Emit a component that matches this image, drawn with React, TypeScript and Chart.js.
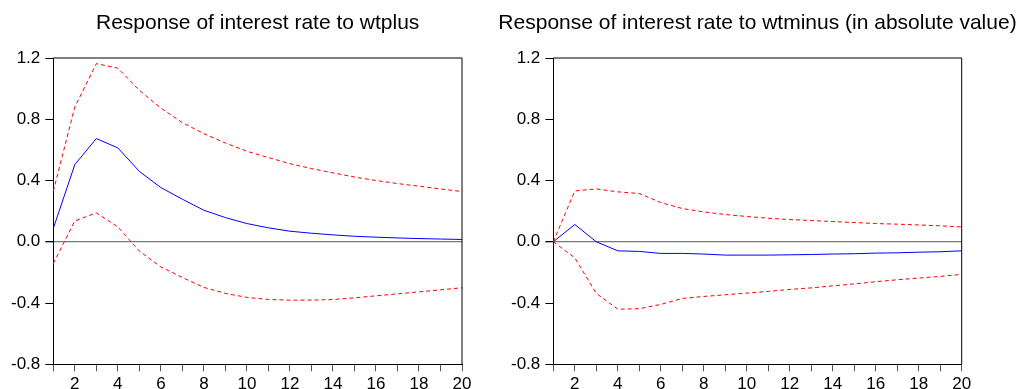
import React, { useEffect, useRef } from "react";
import { Chart, registerables } from "chart.js";

Chart.register(...registerables);

const periods = [1, 2, 3, 4, 5, 6, 7, 8, 9, 10, 11, 12, 13, 14, 15, 16, 17, 18, 19, 20];
const yTicks = [-0.8, -0.4, 0.0, 0.4, 0.8, 1.2];

const plusTitle = "Response of interest rate to wtplus";
const plusResponse = [0.087, 0.504, 0.674, 0.613, 0.46, 0.354, 0.278, 0.206, 0.158, 0.119, 0.091, 0.069, 0.056, 0.045, 0.036, 0.03, 0.025, 0.021, 0.018, 0.015];
const plusUpper = [0.33, 0.88, 1.163, 1.134, 0.989, 0.873, 0.778, 0.706, 0.645, 0.591, 0.55, 0.51, 0.478, 0.45, 0.423, 0.4, 0.38, 0.363, 0.345, 0.328];
const plusLower = [-0.142, 0.136, 0.189, 0.097, -0.061, -0.164, -0.233, -0.298, -0.337, -0.363, -0.377, -0.381, -0.381, -0.377, -0.366, -0.353, -0.34, -0.327, -0.314, -0.3];

const minusTitle = "Response of interest rate to wtminus (in absolute value)";
const minusResponse = [0.0, 0.113, 0.0, -0.059, -0.063, -0.076, -0.076, -0.08, -0.087, -0.087, -0.087, -0.085, -0.083, -0.08, -0.078, -0.074, -0.072, -0.068, -0.065, -0.059];
const minusUpper = [0.0, 0.332, 0.345, 0.326, 0.315, 0.256, 0.217, 0.195, 0.178, 0.165, 0.154, 0.145, 0.139, 0.132, 0.126, 0.119, 0.115, 0.11, 0.104, 0.097];
const minusLower = [0.0, -0.105, -0.337, -0.44, -0.437, -0.409, -0.37, -0.357, -0.346, -0.335, -0.324, -0.311, -0.301, -0.288, -0.275, -0.261, -0.248, -0.237, -0.226, -0.213];

const FONT = "'Liberation Sans', Arial, sans-serif";

function makeConfig(title: string, resp: number[], upper: number[], lower: number[], padLeft: number, padRight: number) {
  const framePlugin = {
    id: "frameAndTitle",
    afterDraw(chart: any) {
      const { ctx, chartArea } = chart;
      ctx.save();
      ctx.strokeStyle = "#000";
      ctx.lineWidth = 1;
      ctx.beginPath();
      ctx.moveTo(chartArea.left, chartArea.top);
      ctx.lineTo(chartArea.right, chartArea.top);
      ctx.lineTo(chartArea.right, chartArea.bottom);
      ctx.stroke();
      ctx.fillStyle = "#000";
      ctx.font = `21px ${FONT}`;
      ctx.textAlign = "center";
      ctx.textBaseline = "alphabetic";
      ctx.fillText(title, (chartArea.left + chartArea.right) / 2, 29);
      ctx.restore();
    },
  };
  return {
    type: "line" as const,
    data: {
      labels: periods.map(String),
      datasets: [
        { data: upper, borderColor: "#ff0000", borderWidth: 1, borderDash: [4, 3], pointRadius: 0, tension: 0, fill: false },
        { data: lower, borderColor: "#ff0000", borderWidth: 1, borderDash: [4, 3], pointRadius: 0, tension: 0, fill: false },
        { data: resp, borderColor: "#0000ff", borderWidth: 1, pointRadius: 0, tension: 0, fill: false },
      ],
    },
    options: {
      animation: false,
      responsive: false,
      maintainAspectRatio: false,
      layout: { padding: { left: padLeft, right: padRight, top: 58, bottom: 0 } },
      plugins: { legend: { display: false }, tooltip: { enabled: false }, title: { display: false } },
      scales: {
        x: {
          type: "category",
          offset: false,
          afterFit: (s: any) => { s.height = 24.7; },
          grid: { display: true, drawOnChartArea: false, drawTicks: true, tickLength: 7, color: "#555", tickColor: "#555", offset: false },
          border: { display: true, color: "#000", width: 1 },
          ticks: {
            autoSkip: false,
            maxRotation: 0,
            minRotation: 0,
            padding: 3,
            color: "#000",
            font: { family: FONT, size: 17 },
            callback: (_v: any, i: number) => (periods[i] % 2 === 0 ? String(periods[i]) : ""),
          },
        },
        y: {
          type: "linear",
          min: yTicks[0],
          max: yTicks[yTicks.length - 1],
          afterFit: (s: any) => { s.width = 53.3; },
          afterBuildTicks: (s: any) => { s.ticks = yTicks.map((v) => ({ value: v })); },
          grid: {
            display: true,
            drawOnChartArea: true,
            drawTicks: true,
            tickLength: 8,
            color: (c: any) => (c.tick && Math.abs(c.tick.value) < 1e-9 ? "#777" : "rgba(0,0,0,0)"),
            lineWidth: (c: any) => (c.tick && Math.abs(c.tick.value) < 1e-9 ? 1.3 : 1),
            tickColor: "#000",
          },
          border: { display: true, color: "#000", width: 1 },
          ticks: {
            padding: 5,
            color: "#000",
            font: { family: FONT, size: 17 },
            callback: (v: any) => (Math.abs(Number(v)) < 1e-9 ? "0.0" : Number(v).toFixed(1)),
          },
        },
      },
    },
    plugins: [framePlugin],
  };
}

function Panel(props: { left: number; width: number; title: string; resp: number[]; upper: number[]; lower: number[]; padLeft: number; padRight: number }) {
  const ref = useRef<HTMLCanvasElement | null>(null);
  useEffect(() => {
    if (!ref.current) return;
    const chart = new Chart(ref.current, makeConfig(props.title, props.resp, props.upper, props.lower, props.padLeft, props.padRight) as any);
    return () => chart.destroy();
  }, []);
  return (
    <canvas
      ref={ref}
      width={props.width}
      height={389}
      style={{ position: "absolute", left: props.left, top: 0, width: props.width, height: 389 }}
    />
  );
}

export default function App() {
  return (
    <div style={{ position: "absolute", left: 0, top: 0, width: 1024, height: 389, background: "#fff", overflow: "hidden" }}>
      <Panel left={0} width={500} title={plusTitle} resp={plusResponse} upper={plusUpper} lower={plusLower} padLeft={0} padRight={38} />
      <Panel left={480} width={544} title={minusTitle} resp={minusResponse} upper={minusUpper} lower={minusLower} padLeft={20} padRight={62.3} />
    </div>
  );
}
